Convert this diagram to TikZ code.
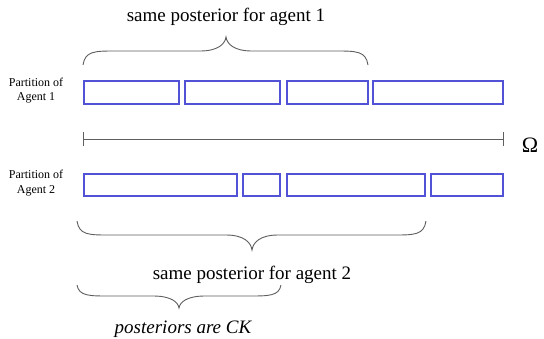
\documentclass[tikz,border=0pt]{standalone}
\usepackage{fontspec}
\setmainfont{Liberation Serif}
\newfontfamily\tms{Liberation Serif}
\definecolor{partblue}{RGB}{82,82,214}
\definecolor{bracegray}{RGB}{95,95,95}
\newcommand\drawbrace[6]{% x0, x1, xt, yend, ymid, ytip
  \draw[bracestroke] (#1,#4) .. controls ({#1+2},{#5}) and ({#1+12},{#5}) .. ({#1+32},{#5})
    -- ({#3-26},{#5}) .. controls ({#3-8},{#5}) and ({#3-1},{(#5+#6)/2}) .. (#3,#6)
    .. controls ({#3+1},{(#5+#6)/2}) and ({#3+8},{#5}) .. ({#3+26},{#5})
    -- ({#2-32},{#5}) .. controls ({#2-12},{#5}) and ({#2-2},{#5}) .. (#2,#4);}
\begin{document}
\begin{tikzpicture}[x=1pt,y=-1pt,
  partbox/.style={draw=partblue,line width=2pt,inner sep=0pt,minimum height=22.5pt},
  bracestroke/.style={draw=bracegray,line width=0.9pt},
  bigtext/.style={font=\tms\fontsize{19}{22}\selectfont,inner sep=0pt},
  sidetext/.style={font=\tms\fontsize{12}{14.4}\selectfont,align=center,inner sep=0pt}]
\useasboundingbox[fill=white] (0,0) rectangle (544,338);
% agent 1 partition
\node[partbox,minimum width=95.2pt] (a1) at (131.1,92.7) {};
\node[partbox,minimum width=95.1pt] (a2) at (232.45,92.7) {};
\node[partbox,minimum width=80.9pt] (a3) at (327.05,92.7) {};
\node[partbox,minimum width=129.5pt] (a4) at (438.05,92.7) {};
% agent 2 partition
\node[partbox,minimum width=153.5pt] (b1) at (160.25,185) {};
\node[partbox,minimum width=37.2pt] (b2) at (261.8,185) {};
\node[partbox,minimum width=138.8pt] (b3) at (356,185) {};
\node[partbox,minimum width=71.5pt] (b4) at (467.05,185) {};
% labels
\node[sidetext] (l1) at (36,90.5) {Partition of\\Agent 1};
\node[sidetext] (l2) at (36,183) {Partition of\\Agent 2};
% omega line
\coordinate (oL) at (83.3,139.3);
\coordinate (oR) at (503.5,139.3);
\draw[bracegray,line width=0.8pt] (oL) -- (oR);
\draw[bracegray,line width=0.8pt] ([yshift=-7pt]oL) -- ([yshift=7pt]oL);
\draw[bracegray,line width=0.8pt] ([yshift=-7pt]oR) -- ([yshift=7pt]oR);
\node[font=\tms\fontsize{22}{24}\selectfont,inner sep=0pt] (om) at (530,145) {Ω};
% braces
\drawbrace{83}{368}{226}{65}{51}{37}
\drawbrace{77}{426}{252}{221}{235}{250}
\drawbrace{77}{281}{179}{285}{296}{308}
% texts
\node[bigtext,anchor=base] (t1) at (226,21) {same posterior for agent 1};
\node[bigtext,anchor=base] (t2) at (252,279) {same posterior for agent 2};
\node[bigtext,anchor=base] (t3) at (183,333) {\itshape posteriors are CK};
\end{tikzpicture}
\end{document}
